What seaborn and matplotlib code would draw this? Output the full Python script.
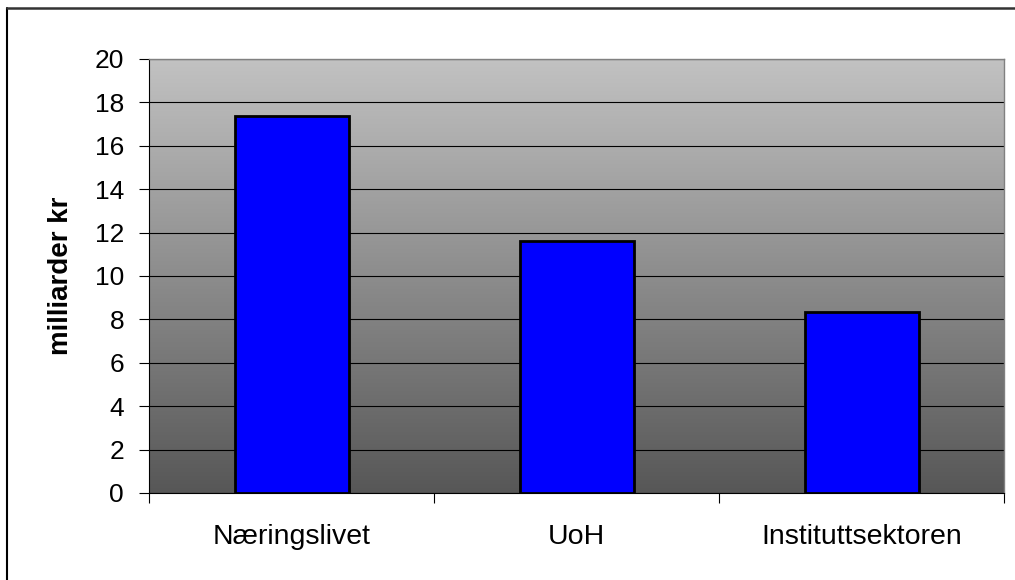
import numpy as np
import pandas as pd
import seaborn as sns
import matplotlib.pyplot as plt
from matplotlib.colors import LinearSegmentedColormap
from matplotlib.lines import Line2D

# FoU-utgifter per sektor (milliarder kr)
sektorer = ["Næringslivet", "UoH", "Instituttsektoren"]
milliarder = [17.35, 11.63, 8.33]
yticks = list(range(0, 21, 2))

sns.set_theme(style="white", rc={"text.color": "black", "axes.labelcolor": "black",
                                 "xtick.color": "black", "ytick.color": "black"})
plt.rcParams["font.family"] = ["Liberation Sans", "DejaVu Sans"]

df = pd.DataFrame({"sektor": sektorer, "verdi": milliarder})

fig = plt.figure(figsize=(10.15, 5.8), dpi=100)
ax = fig.add_axes([0.1468, 0.15, 0.8424, 0.7483])

# gradert bakgrunn i plotteområdet
bg = LinearSegmentedColormap.from_list("bg", ["#c2c2c2", "#575757"])
grad = np.linspace(0, 1, 256).reshape(-1, 1)
ax.imshow(grad, cmap=bg, aspect="auto", extent=[0, 1, 0, 1],
          transform=ax.transAxes, zorder=0)

sns.barplot(df, x="sektor", y="verdi", color="#0000ff", width=0.4,
            edgecolor="black", linewidth=2, saturation=1, zorder=3, ax=ax)

ax.set_xlim(-0.5, 2.5)
ax.set_ylim(0, 20)
ax.set_yticks(yticks)
ax.set_axisbelow(True)
ax.grid(axis="y", color="black", linewidth=0.8)
ax.grid(axis="x", visible=False)

ax.tick_params(axis="y", left=True, length=7, width=0.8, pad=11, labelsize=19)
ax.set_xticks([-0.5, 0.5, 1.5, 2.5], minor=True)
ax.tick_params(axis="x", which="major", length=0, pad=22, labelsize=20.5)
ax.tick_params(axis="x", which="minor", bottom=True, length=7, width=0.8)

for side in ["left", "bottom"]:
    ax.spines[side].set_color("black")
    ax.spines[side].set_linewidth(0.8)
for side in ["top", "right"]:
    ax.spines[side].set_color("#808080")
    ax.spines[side].set_linewidth(1)

ax.set_xlabel("")
ax.set_ylabel("milliarder kr", fontsize=20, fontweight="bold", labelpad=15)

# ramme rundt diagrammet (bare venstre og topp synlig)
fig.add_artist(Line2D([7 / 1015, 7 / 1015], [0, 1 - 8 / 580], color="black", lw=1.5))
fig.add_artist(Line2D([7 / 1015, 1], [1 - 8 / 580, 1 - 8 / 580], color="#333333", lw=1.8))

fig.savefig("out.png", dpi=100)
